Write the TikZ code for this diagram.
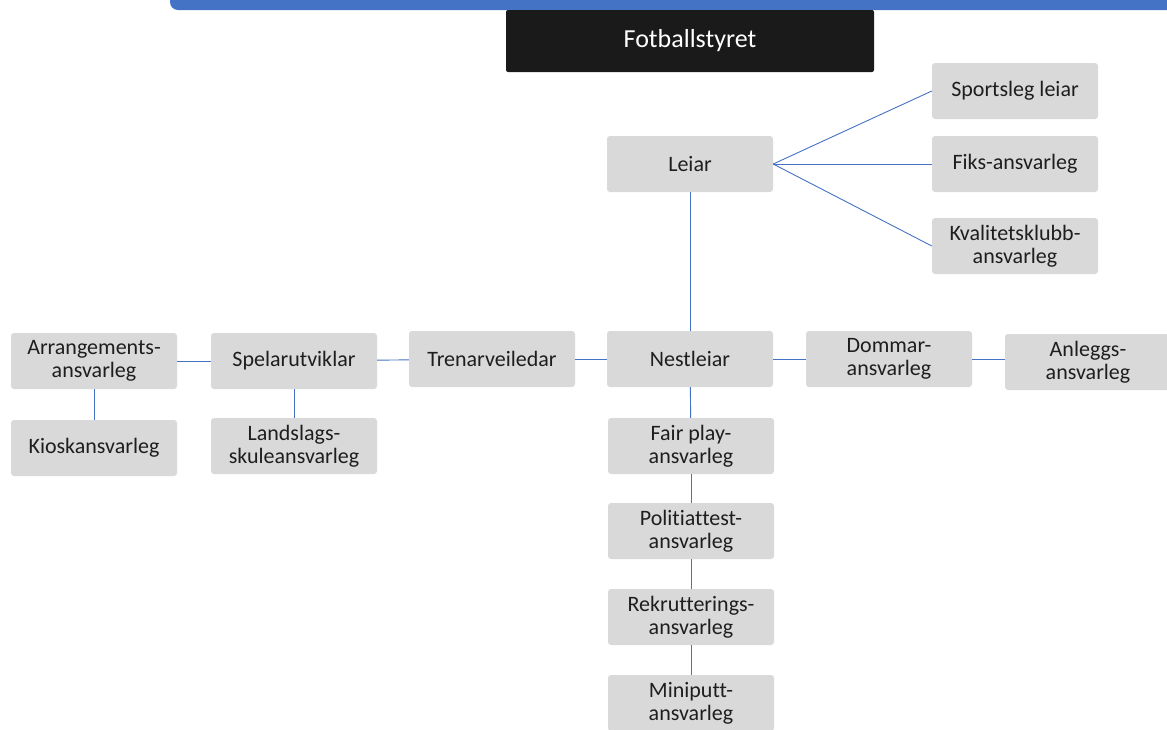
\documentclass[tikz,border=0pt]{standalone}
\usepackage{fontspec}
\setmainfont{Carlito}[Ligatures=NoCommon]
\definecolor{boxgray}{HTML}{D9D9D9}
\definecolor{linkblue}{HTML}{4472C4}
\definecolor{headblack}{HTML}{1A1A1A}
\definecolor{textgray}{HTML}{1E1E1E}
\begin{document}
\begin{tikzpicture}[x=1pt,y=-1pt,
    role/.style={fill=boxgray,rounded corners=3pt,minimum width=166pt,minimum height=56pt,
      align=center,text=textgray,font=\fontsize{22}{23}\selectfont,inner sep=0pt},
    link/.style={draw=linkblue,line width=0.9pt}]
      \useasboundingbox (0,0) rectangle (1167,729);
      \clip (0,0) rectangle (1167,729);
      \fill[linkblue,rounded corners=8pt] (170,-30) rectangle (1200,10);
      \node[fill=headblack,rounded corners=2pt,minimum width=368pt,minimum height=62pt,
        text=white,font=\fontsize{26}{28}\selectfont] (styret) at (690,41) {Fotballstyret};
      \draw
        (690,164) node[role] (leiar){Leiar}
        (1015,91) node[role] (sport){Sportsleg leiar}
        (1015,164) node[role] (fiks){Fiks-ansvarleg}
        (1015,246) node[role] (kval){Kvalitetsklubb-\\ansvarleg}
        (690,359) node[role] (nest){Nestleiar}
        (889,359) node[role] (dommar){Dommar-\\ansvarleg}
        (1088,362) node[role] (anlegg){Anleggs-\\ansvarleg}
        (492,359) node[role] (trenar){Trenarveiledar}
        (294,361) node[role] (spelar){Spelarutviklar}
        (94,361) node[role] (arr){Arrangements-\\ansvarleg}
        (94,448) node[role] (kiosk){Kioskansvarleg}
        (294,446) node[role] (lands){Landslags-\\skuleansvarleg}
        (691,446) node[role] (fair){Fair play-\\ansvarleg}
        (691,531) node[role] (politi){Politiattest-\\ansvarleg}
        (691,617) node[role] (rekr){Rekrutterings-\\ansvarleg}
        (691,703) node[role] (mini){Miniputt-\\ansvarleg};
      \begin{scope}[link]
        \draw (leiar.east) to (sport.west);
        \draw (leiar.east) to (fiks.west);
        \draw (leiar.east) to (kval.west);
        \draw (leiar) to (nest);
        \draw (nest) to (dommar);
        \draw (dommar) to (anlegg.west |- dommar);
        \draw (nest) to (trenar);
        \draw (trenar) to (spelar);
        \draw (spelar) to (arr);
        \draw (arr) to (kiosk);
        \draw (spelar) to (lands);
        \draw (nest) to (fair);
        \draw (fair) to (politi);
        \draw (politi) to (rekr);
        \draw (rekr) to (mini);
      \end{scope}
    \end{tikzpicture}
\end{document}
